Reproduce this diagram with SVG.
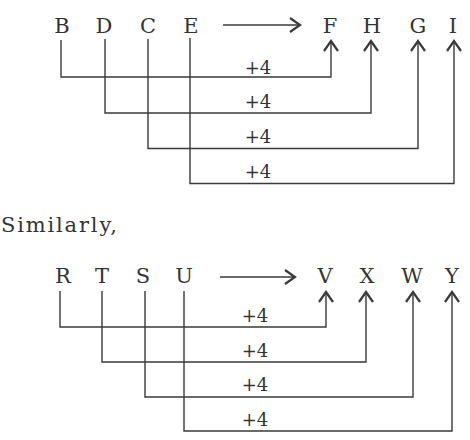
<svg xmlns="http://www.w3.org/2000/svg" width="470" height="440" viewBox="0 0 470 440">
<style>
  .l { font-family: "DejaVu Serif", "Liberation Serif", serif; font-size: 21px; fill: #333; text-anchor: middle; }
  .p { font-family: "DejaVu Serif", "Liberation Serif", serif; font-size: 18px; fill: #333; text-anchor: middle; }
  .s { font-family: "DejaVu Serif", "Liberation Serif", serif; font-size: 21px; fill: #333; }
  .c { fill: none; stroke: #3a3a3a; stroke-width: 1.4; }
</style>
<defs>
  <marker id="ah" markerUnits="userSpaceOnUse" viewBox="-12 -9 14 18" refX="0" refY="0" markerWidth="14" markerHeight="18" orient="auto">
    <path d="M-10,-7 L0,0 L-10,7" fill="none" stroke="#3a3a3a" stroke-width="2.2"/>
  </marker>
</defs>
<rect width="470" height="440" fill="#fff"/>
<g id="row1">
  <g id="B"><text class="l" x="62" y="33">B</text></g>
  <g id="D"><text class="l" x="104" y="33">D</text></g>
  <g id="C"><text class="l" x="148" y="33">C</text></g>
  <g id="E"><text class="l" x="191" y="33">E</text></g>
  <g id="F"><text class="l" x="330" y="33">F</text></g>
  <g id="H"><text class="l" x="372" y="33">H</text></g>
  <g id="G"><text class="l" x="418" y="33">G</text></g>
  <g id="I"><text class="l" x="453" y="33">I</text></g>
</g>
<g id="label-similarly"><text class="s" x="1" y="232" textLength="116" lengthAdjust="spacing">Similarly,</text></g>
<g id="row2">
  <g id="R"><text class="l" x="63" y="283">R</text></g>
  <g id="T"><text class="l" x="102" y="283">T</text></g>
  <g id="S"><text class="l" x="143" y="283">S</text></g>
  <g id="U"><text class="l" x="184" y="283">U</text></g>
  <g id="V"><text class="l" x="325" y="283">V</text></g>
  <g id="X"><text class="l" x="367" y="283">X</text></g>
  <g id="W"><text class="l" x="412" y="283">W</text></g>
  <g id="Y"><text class="l" x="452" y="283">Y</text></g>
</g>
<g id="connectors">
  <path class="c" d="M223,25 H300" marker-end="url(#ah)"/>
  <path class="c" d="M61,40 V77 H331 V41" marker-end="url(#ah)"/>
  <path class="c" d="M105,39 V113 H371 V41" marker-end="url(#ah)"/>
  <path class="c" d="M148,39 V148.5 H418 V41" marker-end="url(#ah)"/>
  <path class="c" d="M190,38 V183.5 H454 V41" marker-end="url(#ah)"/>
  <path class="c" d="M220,277 H295" marker-end="url(#ah)"/>
  <path class="c" d="M60,291 V327 H326 V292" marker-end="url(#ah)"/>
  <path class="c" d="M102,291 V362 H366 V292" marker-end="url(#ah)"/>
  <path class="c" d="M145,291 V397 H413 V292" marker-end="url(#ah)"/>
  <path class="c" d="M184,291 V431 H452 V292" marker-end="url(#ah)"/>
  <text class="p" x="258" y="74">+4</text>
  <text class="p" x="258" y="108">+4</text>
  <text class="p" x="258" y="143">+4</text>
  <text class="p" x="258" y="178">+4</text>
  <text class="p" x="255" y="322">+4</text>
  <text class="p" x="255" y="357">+4</text>
  <text class="p" x="255" y="391">+4</text>
  <text class="p" x="255" y="426">+4</text>
</g>
</svg>
